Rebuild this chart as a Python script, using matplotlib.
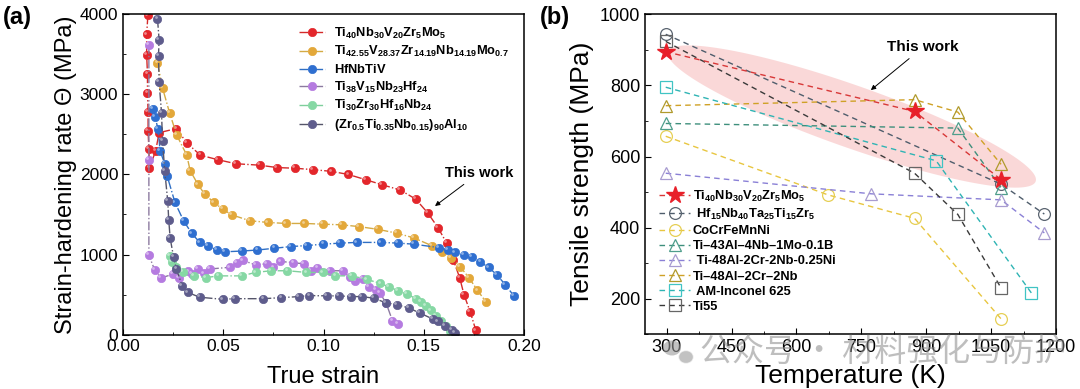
import numpy as np
import matplotlib
matplotlib.use("Agg")
import matplotlib.pyplot as plt
from matplotlib.patches import Polygon, Ellipse
from matplotlib.ticker import MultipleLocator
from matplotlib.transforms import offset_copy

plt.rcParams['font.family'] = ['Liberation Sans', 'DejaVu Sans']
plt.rcParams['mathtext.fontset'] = 'custom'
plt.rcParams['mathtext.rm'] = 'Liberation Sans'
plt.rcParams['mathtext.bf'] = 'Liberation Sans:bold'
plt.rcParams['mathtext.it'] = 'Liberation Sans:italic'

# ---------------- Panel (a) data ----------------
red_x = [0.0124, 0.0118, 0.0118, 0.0122, 0.0122, 0.0125, 0.0125, 0.0129, 0.0132, 0.0163, 0.0180,
         0.0266, 0.0319, 0.0386, 0.0472, 0.0563, 0.0682, 0.0769, 0.0858, 0.0948, 0.1039, 0.1124,
         0.1210, 0.1293, 0.1382, 0.1459, 0.1519, 0.1571, 0.1614, 0.1648, 0.1679, 0.1701, 0.1732, 0.1760]
red_y = [3987, 3750, 3491, 3254, 3017, 2780, 2543, 2319, 2082, 2297, 2522,
         2573, 2392, 2241, 2185, 2134, 2116, 2086, 2078, 2060, 2039, 2000,
         1935, 1871, 1806, 1694, 1522, 1336, 1142, 927, 711, 496, 280, 52]

gold_x = [0.0172, 0.0197, 0.0232, 0.0268, 0.0318, 0.0335, 0.0374, 0.0407, 0.0453, 0.0498, 0.0542,
          0.0632, 0.0721, 0.0812, 0.0905, 0.0996, 0.1090, 0.1176, 0.1270, 0.1365, 0.1451, 0.1542,
          0.1593, 0.1636, 0.1681, 0.1725, 0.1768, 0.1811]
gold_y = [3392, 3082, 2772, 2491, 2241, 2047, 1875, 1754, 1651, 1565, 1496,
          1422, 1401, 1388, 1388, 1379, 1371, 1349, 1315, 1267, 1207, 1108,
          1034, 957, 849, 711, 552, 405]

blue_x = [0.0151, 0.0160, 0.0175, 0.0185, 0.0208, 0.0220, 0.0259, 0.0302, 0.0343, 0.0383, 0.0424,
          0.0467, 0.0508, 0.0592, 0.0670, 0.0755, 0.0836, 0.0918, 0.0999, 0.1082, 0.1167, 0.1288,
          0.1373, 0.1451, 0.1576, 0.1619, 0.1657, 0.1700, 0.1742, 0.1782, 0.1823, 0.1863, 0.1906, 0.1948]
blue_y = [2823, 2716, 2565, 2293, 2134, 1983, 1651, 1422, 1263, 1151, 1108,
          1056, 1034, 1043, 1056, 1078, 1099, 1112, 1129, 1142, 1151, 1151,
          1142, 1129, 1086, 1056, 1026, 1000, 966, 905, 840, 750, 625, 487]

purple_x = [0.0129, 0.0129, 0.0129, 0.0158, 0.0189, 0.0249, 0.0280, 0.0326, 0.0343, 0.0374, 0.0403,
            0.0434, 0.0532, 0.0567, 0.0596, 0.0661, 0.0718, 0.0750, 0.0785, 0.0850, 0.0901, 0.0936,
            0.0970, 0.1030, 0.1095, 0.1130, 0.1159, 0.1195, 0.1227, 0.1262, 0.1282, 0.1313, 0.1344, 0.1373]
purple_y = [3620, 2177, 991, 806, 707, 754, 707, 789, 760, 819, 763,
            819, 840, 897, 927, 871, 884, 840, 914, 897, 884, 797,
            832, 797, 797, 720, 668, 700, 595, 560, 517, 388, 172, 129]

green_x = [0.0232, 0.0244, 0.0266, 0.0297, 0.0352, 0.0412, 0.0476, 0.0592, 0.0661, 0.0738, 0.0820,
           0.0915, 0.0996, 0.1059, 0.1142, 0.1215, 0.1284, 0.1327, 0.1373, 0.1416, 0.1459, 0.1485,
           0.1511, 0.1537, 0.1562, 0.1588, 0.1609, 0.1631]
green_y = [983, 905, 840, 784, 733, 711, 733, 733, 776, 797, 797,
           776, 776, 733, 733, 690, 638, 595, 547, 509, 448, 405,
           353, 302, 237, 172, 108, 43]

dark_x = [0.0172, 0.0180, 0.0177, 0.0180, 0.0192, 0.0197, 0.0208, 0.0223, 0.0228, 0.0235, 0.0252,
          0.0266, 0.0295, 0.0323, 0.0383, 0.0498, 0.0558, 0.0700, 0.0790, 0.0876, 0.0930, 0.1018,
          0.1078, 0.1138, 0.1193, 0.1253, 0.1310, 0.1365, 0.1425, 0.1482, 0.1545, 0.1571, 0.1605,
          0.1640, 0.1657]
dark_y = [3944, 3685, 3483, 3155, 2772, 2422, 2047, 1668, 1435, 1207, 970,
          819, 612, 526, 466, 440, 448, 448, 461, 474, 487, 483,
          483, 474, 474, 453, 397, 375, 332, 267, 194, 164, 108,
          56, 22]

a_labels = [r'$\mathbf{Ti_{40}Nb_{30}V_{20}Zr_{5}Mo_{5}}$',
            r'$\mathbf{Ti_{42.55}V_{28.37}Zr_{14.19}Nb_{14.19}Mo_{0.7}}$',
            r'$\mathbf{HfNbTiV}$',
            r'$\mathbf{Ti_{38}V_{15}Nb_{23}Hf_{24}}$',
            r'$\mathbf{Ti_{30}Zr_{30}Hf_{16}Nb_{24}}$',
            r'$\mathbf{(Zr_{0.5}Ti_{0.35}Nb_{0.15})_{90}Al_{10}}$']
a_colors = ['#e3262b', '#e3a83a', '#2f6fd0', '#b57be0', '#86d8a4', '#5e5c8c']
a_lcolors = ['#d42a2a', '#d4ab45', '#2f6fc4', '#8c7aa0', '#7fcf9c', '#55556a']

# ---------------- Panel (b) data ----------------
T_this = [298, 873, 1073];            S_this = [895, 727, 535]
T_hf = [298, 1073, 1173];             S_hf = [944, 522, 438]
T_co = [298, 673, 873, 1073];         S_co = [657, 492, 426, 143]
T_ti43 = [298, 973, 1073];            S_ti43 = [693, 680, 512]
T_ti48ni = [298, 773, 1073, 1173];    S_ti48ni = [553, 495, 478, 385]
T_ti48 = [298, 873, 973, 1073];       S_ti48 = [743, 760, 725, 578]
T_inc = [298, 923, 1143];             S_inc = [795, 588, 216]
T_ti55 = [298, 873, 973, 1073];       S_ti55 = [924, 553, 437, 230]

b_labels = [r'$\mathbf{Ti_{40}Nb_{30}V_{20}Zr_{5}Mo_{5}}$',
            r'$\mathbf{\ Hf_{15}Nb_{40}Ta_{25}Ti_{15}Zr_{5}}$',
            'CoCrFeMnNi',
            'Ti–43Al–4Nb–1Mo-0.1B',
            ' Ti-48Al-2Cr-2Nb-0.25Ni',
            'Ti–48Al–2Cr–2Nb',
            ' AM-Inconel 625',
            'Ti55']

fig = plt.figure(figsize=(10.8, 3.89), dpi=100)
axa = fig.add_axes([0.1139, 0.140, 0.3713, 0.823])
axb = fig.add_axes([0.5972, 0.141, 0.3806, 0.822])

# ---------------- Panel (a) ----------------
series_a = [(red_x, red_y), (gold_x, gold_y), (blue_x, blue_y),
            (purple_x, purple_y), (green_x, green_y), (dark_x, dark_y)]
hl_trans = offset_copy(axa.transData, fig=fig, x=-1.3, y=1.3, units='points')
for (xs, ys), c, lc, lab in zip(series_a, a_colors, a_lcolors, a_labels):
    axa.plot(xs, ys, linestyle='-.', color=lc, lw=1.0, marker='o', ms=6,
             mfc=c, mec=c, mew=0.5, label=lab)
    axa.plot(xs, ys, linestyle='none', marker='o', ms=2.0, mfc='white', mec='none',
             alpha=0.45, transform=hl_trans)
axa.set_xlim(0, 0.20)
axa.set_ylim(0, 4000)
axa.xaxis.set_major_locator(MultipleLocator(0.05))
axa.xaxis.set_minor_locator(MultipleLocator(0.025))
axa.yaxis.set_major_locator(MultipleLocator(1000))
axa.yaxis.set_minor_locator(MultipleLocator(500))
axa.xaxis.set_major_formatter(matplotlib.ticker.FormatStrFormatter('%.2f'))
axa.tick_params(which='both', direction='in', labelsize=12.5)
axa.tick_params(which='major', length=4)
axa.tick_params(which='minor', length=2.5)
axa.set_xlabel('True strain', fontsize=17, labelpad=8)
axa.set_ylabel('Strain-hardening rate Θ (MPa)', fontsize=17, labelpad=2)
for s in axa.spines.values():
    s.set_linewidth(1.1)
handles, labels = axa.get_legend_handles_labels()
axa.legend(handles, labels, loc='upper left', bbox_to_anchor=(0.44, 0.965), frameon=False,
           fontsize=9.3, handlelength=2.0, handletextpad=0.7, labelspacing=0.28,
           borderaxespad=0, borderpad=0)
axa.annotate('This work', xy=(0.1556, 1606), xytext=(0.1776, 2019),
             fontsize=10.5, fontweight='bold', ha='center', va='center',
             arrowprops=dict(arrowstyle='-|>', color='black', lw=0.7, mutation_scale=7,
                             shrinkA=2, shrinkB=0))

# ---------------- Panel (b) ----------------
axb.set_xlim(250, 1200)
axb.set_ylim(100, 1000)
fig.canvas.draw()

# highlight ellipse around "This work" series (built in pixel space)
p0 = axb.transData.transform((T_this[0] + 5, S_this[0]))
p1 = axb.transData.transform((T_this[-1] + 80, S_this[-1] - 5))
cen = (p0 + p1) / 2
u = (p1 - p0) / np.linalg.norm(p1 - p0)
v = np.array([-u[1], u[0]])
a_len = np.linalg.norm(p1 - p0) / 2
b_len = 31
t = np.linspace(0, 2 * np.pi, 200)
pts = cen + np.outer(a_len * np.cos(t), u) + np.outer(b_len * np.sin(t), v)
pts_data = axb.transData.inverted().transform(pts)
axb.add_patch(Polygon(pts_data, closed=True, facecolor='#f7b9b9', edgecolor='none',
                      alpha=0.55, zorder=0))

dash = (0, (4, 3))
mk = dict(ms=8.5, mfc='none', mew=0.9)
axb.plot(T_this, S_this, linestyle=dash, color='#d83838', lw=1.0, marker='*', ms=13,
         mfc='#e8202a', mec='#e8202a', label=b_labels[0], zorder=5)
axb.plot(T_hf, S_hf, linestyle=dash, color='#4f5d6c', lw=1.0, marker='o', mec='#5a6470',
         label=b_labels[1], **mk)
axb.plot(T_co, S_co, linestyle=dash, color='#e8c640', lw=1.0, marker='o', mec='#e6cf55',
         label=b_labels[2], **mk)
axb.plot(T_ti43, S_ti43, linestyle=dash, color='#3e8f7c', lw=1.0, marker='^', mec='#4f9e8c',
         label=b_labels[3], **mk)
axb.plot(T_ti48ni, S_ti48ni, linestyle=dash, color='#8a80d6', lw=1.0, marker='^', mec='#a89cd0',
         label=b_labels[4], **mk)
axb.plot(T_ti48, S_ti48, linestyle=dash, color='#cfa126', lw=1.0, marker='^', mec='#b09a2c',
         label=b_labels[5], **mk)
axb.plot(T_inc, S_inc, linestyle=dash, color='#2fb4b4', lw=1.0, marker='s', mec='#40c4c4',
         label=b_labels[6], **mk)
axb.plot(T_ti55, S_ti55, linestyle=dash, color='#3a3a3a', lw=1.0, marker='s', mec='#666666',
         label=b_labels[7], **mk)

axb.xaxis.set_major_locator(MultipleLocator(150))
axb.xaxis.set_minor_locator(MultipleLocator(75))
axb.set_xticks([300, 450, 600, 750, 900, 1050, 1200])
axb.yaxis.set_major_locator(MultipleLocator(200))
axb.yaxis.set_minor_locator(MultipleLocator(100))
axb.tick_params(which='both', direction='in', labelsize=13)
axb.tick_params(which='major', length=4)
axb.tick_params(which='minor', length=2.5)
axb.set_xlabel('Temperature (K)', fontsize=19, labelpad=6)
axb.set_ylabel('Tensile strength (MPa)', fontsize=19, labelpad=4)
for s in axb.spines.values():
    s.set_linewidth(1.1)
leg = axb.legend(loc='upper left', bbox_to_anchor=(0.035, 0.455), frameon=False,
                 handlelength=2.4, handletextpad=0.2, labelspacing=0.24,
                 borderaxespad=0, borderpad=0, prop={'size': 9.3, 'weight': 'bold'})
axb.annotate('This work', xy=(772, 787), xytext=(893, 908),
             fontsize=11, fontweight='bold', ha='center', va='center',
             arrowprops=dict(arrowstyle='-|>', color='black', lw=0.7, mutation_scale=7,
                             shrinkA=2, shrinkB=0))

# panel letters
fig.text(0.003, 0.985, '(a)', fontsize=17, fontweight='bold', ha='left', va='top')
fig.text(0.500, 0.985, '(b)', fontsize=17, fontweight='bold', ha='left', va='top')

# watermark
fig.patches.append(Ellipse((672 / 1080, 1 - 348 / 389), 18 / 1080, 15 / 389,
                           transform=fig.transFigure, facecolor='#9a9a9a', alpha=0.6,
                           edgecolor='none', zorder=10))
fig.patches.append(Ellipse((686 / 1080, 1 - 357 / 389), 15 / 1080, 13 / 389,
                           transform=fig.transFigure, facecolor='#9a9a9a', alpha=0.6,
                           edgecolor='white', lw=1, zorder=10))
fig.text(700 / 1080, 1 - 352 / 389, '公众号 · 材料强化与防护', fontsize=23, color='#8a8a8a',
         alpha=0.55, ha='left', va='center', family=['Noto Sans CJK SC', 'DejaVu Sans'],
         zorder=10)

fig.savefig('out.png', dpi=100)
